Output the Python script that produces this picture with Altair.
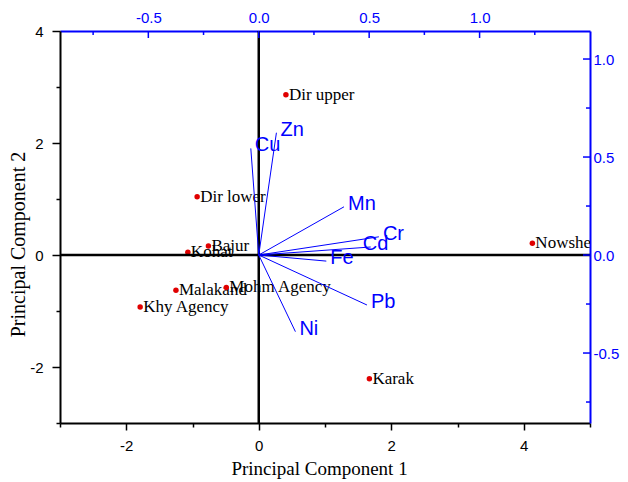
import altair as alt
import pandas as pd

# ---- data ----
sites = ["Dir upper", "Dir lower", "Bajur", "Kohat", "Malakand",
         "Mohm Agency", "Khy Agency", "Karak", "Nowshera"]
pc1 = [0.41, -0.93, -0.76, -1.07, -1.25, -0.49, -1.79, 1.67, 4.13]
pc2 = [2.86, 1.04, 0.16, 0.05, -0.63, -0.58, -0.93, -2.21, 0.21]

metals = ["Cu", "Zn", "Mn", "Cr", "Cd", "Fe", "Pb", "Ni"]
load1 = [-0.036, 0.080, 0.386, 0.544, 0.507, 0.306, 0.490, 0.166]
load2 = [0.544, 0.624, 0.246, 0.093, 0.041, -0.031, -0.255, -0.391]

pc_x_domain = [-3, 5]
pc_y_domain = [-3, 4]
load_x_domain = [-0.9, 1.5]
load_y_domain = [-0.857, 1.143]

pc_x_ticks = [-3, -2, -1, 0, 1, 2, 3, 4, 5]
pc_y_ticks = [-3, -2, -1, 0, 1, 2, 3, 4]
load_x_major = [-0.5, 0.0, 0.5, 1.0]
load_x_minor = [-0.75, -0.25, 0.25, 0.75, 1.25]
load_y_major = [-0.5, 0.0, 0.5, 1.0]
load_y_minor = [-0.75, -0.25, 0.25, 0.75]

W, H = 530, 392
BLUE = "#0000ff"

scores = pd.DataFrame({"site": sites, "pc1": pc1, "pc2": pc2})
loads = pd.DataFrame({"metal": metals, "l1": load1, "l2": load2,
                      "o1": [0.0] * len(metals), "o2": [0.0] * len(metals)})
zero = pd.DataFrame({"z": [0.0]})

# ---- score (PC) scales / axes ----
xs = alt.Scale(domain=pc_x_domain, nice=False, zero=False)
ys = alt.Scale(domain=pc_y_domain, nice=False, zero=False)

even_lbl = ("datum.value % 2 === 0 ? (datum.value < 0 ? '-' + (-datum.value) : '' + datum.value) : ''")

common_axis = dict(grid=False, domainColor="black", domainWidth=2, tickColor="black",
                   tickWidth=1.5, labelFont="Liberation Sans", labelFontSize=15,
                   labelColor="black", titleFont="Liberation Serif",
                   titleFontWeight="normal", titleColor="black")

x_axis = alt.Axis(orient="bottom", values=pc_x_ticks, labelExpr=even_lbl,
                  tickSize={"condition": {"test": "datum.value % 2 === 0", "value": 7}, "value": 4},
                  labelPadding=8, titlePadding=6, titleFontSize=19, titleX=259,
                  title="Principal Component 1", **common_axis)
y_axis = alt.Axis(orient="left", values=pc_y_ticks, labelExpr=even_lbl,
                  tickSize={"condition": {"test": "datum.value % 2 === 0", "value": 8}, "value": 4},
                  labelPadding=9, titleFontSize=20, titleX=-36, titleY=213,
                  titleBaseline="alphabetic",
                  title="Principal Component 2", **common_axis)

def X(f):
    return alt.X(f, type="quantitative", scale=xs, axis=x_axis)

def Y(f):
    return alt.Y(f, type="quantitative", scale=ys, axis=y_axis)

pts = alt.Chart(scores).mark_circle(color="#e00000", size=30, opacity=1).encode(
    x=X("pc1"), y=Y("pc2"))
txt = alt.Chart(scores).mark_text(align="left", baseline="middle", dx=3,
                                  font="Liberation Serif", fontSize=17,
                                  color="black", clip=True).encode(
    x=X("pc1"), y=Y("pc2"), text="site:N")
zx = alt.Chart(zero).mark_rule(color="black", strokeWidth=2.5).encode(x=X("z"))
zy = alt.Chart(zero).mark_rule(color="black", strokeWidth=2.5).encode(y=Y("z"))

score_layer = alt.layer(txt, pts, zx, zy)

# ---- loading scales / axes ----
lx = alt.Scale(domain=load_x_domain, nice=False, zero=False)
ly = alt.Scale(domain=load_y_domain, nice=False, zero=False)
dec_lbl = "datum.value < 0 ? '-' + format(-datum.value, '.1f') : format(datum.value, '.1f')"
blue_axis = dict(grid=False, ticks=False, domainColor=BLUE, domainWidth=2,
                 labelColor=BLUE, labelFont="Liberation Sans", labelFontSize=15,
                 labelExpr=dec_lbl, title=None)
lx_axis = alt.Axis(orient="top", values=load_x_major, labelPadding=6, **blue_axis)
ly_axis = alt.Axis(orient="right", values=load_y_major, labelPadding=3, **blue_axis)

def LX(f):
    return alt.X(f, type="quantitative", scale=lx, axis=lx_axis)

def LY(f):
    return alt.Y(f, type="quantitative", scale=ly, axis=ly_axis)

vec = alt.Chart(loads).mark_rule(color=BLUE, strokeWidth=1).encode(
    x=LX("o1"), y=LY("o2"), x2="l1:Q", y2="l2:Q")
lab_style = dict(align="left", baseline="middle", font="Liberation Sans",
                 fontSize=20, color=BLUE)
vlab = alt.Chart(loads).transform_filter("datum.metal != 'Cd'").mark_text(
    dx=4, dy=-3, **lab_style).encode(x=LX("l1"), y=LY("l2"), text="metal:N")
vlab_cd = alt.Chart(loads).transform_filter("datum.metal == 'Cd'").mark_text(
    dx=-8, dy=-3, **lab_style).encode(x=LX("l1"), y=LY("l2"), text="metal:N")

tx_major = alt.Chart(pd.DataFrame({"v": load_x_major})).mark_rule(
    color=BLUE, strokeWidth=1.5).encode(x=LX("v"), y=alt.value(0), y2=alt.value(7))
tx_minor = alt.Chart(pd.DataFrame({"v": load_x_minor})).mark_rule(
    color=BLUE, strokeWidth=1.5).encode(x=LX("v"), y=alt.value(0), y2=alt.value(4))
ty_major = alt.Chart(pd.DataFrame({"v": load_y_major})).mark_rule(
    color=BLUE, strokeWidth=1.5).encode(y=LY("v"), x=alt.value(W), x2=alt.value(W - 7))
ty_minor = alt.Chart(pd.DataFrame({"v": load_y_minor})).mark_rule(
    color=BLUE, strokeWidth=1.5).encode(y=LY("v"), x=alt.value(W), x2=alt.value(W - 4))

load_layer = alt.layer(vec, vlab, vlab_cd, tx_major, tx_minor, ty_major, ty_minor)

chart = alt.layer(score_layer, load_layer).resolve_scale(
    x="independent", y="independent"
).properties(
    width=W, height=H,
    autosize=alt.AutoSizeParams(type="none"),
    padding={"left": 52, "top": 23, "right": 30, "bottom": 58},
    background="white",
).configure_view(stroke=None)

chart.save("out.html", embed_options={"renderer": "svg", "actions": False})
